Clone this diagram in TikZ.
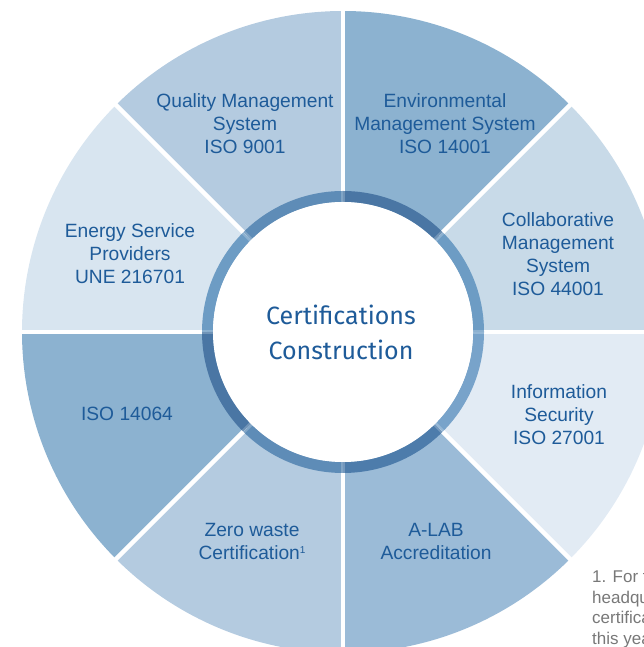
\documentclass[tikz,border=0pt]{standalone}
\usepackage{fontspec}
\setmainfont{Liberation Sans}
\newfontfamily\centerfont{Fira Sans}
\usetikzlibrary{positioning}
\definecolor{cttext}{RGB}{30, 91, 153}
\definecolor{ctsky}{RGB}{200, 218, 232}
\definecolor{ctmist}{RGB}{226, 235, 244}
\definecolor{ctsteel}{RGB}{155, 187, 215}
\definecolor{ctpowder}{RGB}{180, 203, 224}
\definecolor{ctdenim}{RGB}{140, 178, 208}
\definecolor{ctfrost}{RGB}{216, 229, 240}
\definecolor{ctringa}{RGB}{74, 118, 164}
\definecolor{ctringb}{RGB}{94, 140, 183}
\definecolor{ctringc}{RGB}{109, 156, 196}
\definecolor{ctringd}{RGB}{77, 124, 171}
\definecolor{ctringe}{RGB}{120, 163, 202}
\definecolor{ctnote}{RGB}{120, 120, 120}

\begin{document}
\begin{tikzpicture}[x=1pt, y=1pt,
  certlabel/.style={text=cttext, align=center, font=\fontsize{19.2}{23}\selectfont, inner sep=0pt}]
  \useasboundingbox (0,0) rectangle (644,647);
  \clip (0,0) rectangle (644,647);
  \coordinate (hub) at (343,315);
  % sectors
  \foreach \a/\c in {0/ctsky, -45/ctmist, -90/ctsteel, -135/ctpowder, 180/ctdenim, 135/ctfrost, 90/ctpowder, 45/ctdenim}
    \fill[\c] (hub) -- ++(\a:321) arc[start angle=\a, end angle=\a+45, radius=321] -- cycle;
  \foreach \a in {0,45,...,315}
    \draw[white, line width=4.5] (hub) -- ++(\a:330);
  % ring
  \foreach \a/\c in {0/ctringc, 45/ctringa, 90/ctringb, 135/ctringc, 180/ctringa, 225/ctringb, 270/ctringd, 315/ctringe}
    \draw[\c, line width=11] (hub) ++(\a:135.5) arc[start angle=\a, end angle=\a+45, radius=135.5];
  \foreach \a in {0,45,...,315}
    \draw[white, opacity=.22, line width=4.5] (hub) ++(\a:129) -- ++(\a:13);
  \fill[white] (hub) circle[radius=130];
  \node[text=cttext, align=center, font=\centerfont\fontsize{25}{35}\selectfont, inner sep=0pt] (title) at (341,315) {Certifications\\Construction};
  % labels
  \node[certlabel] (quality) at (245,523) {Quality Management\\System\\ISO 9001};
  \node[certlabel] (environ) at (445,523) {Environmental\\Management System\\ISO 14001};
  \node[certlabel] (collab) at (558,393) {Collaborative\\Management\\System\\ISO 44001};
  \node[certlabel] (energy) at (130,393) {Energy Service\\Providers\\UNE 216701};
  \node[certlabel] (infosec) at (559,232) {Information\\Security\\ISO 27001};
  \node[certlabel] (isoghg) at (127,233) {ISO 14064};
  \node[certlabel] (zerowaste) at (252,106) {Zero waste\\Certification\raisebox{5.5pt}{\fontsize{10}{10}\selectfont 1}};
  \node[certlabel] (alab) at (436,106) {A-LAB\\Accreditation};
  \node[text=ctnote, align=left, anchor=north west, font=\fontsize{17}{20.5}\selectfont, inner sep=0pt] (note) at (592,77) {1. For the\\headquarters\\certification\\this year};
\end{tikzpicture}
\end{document}
